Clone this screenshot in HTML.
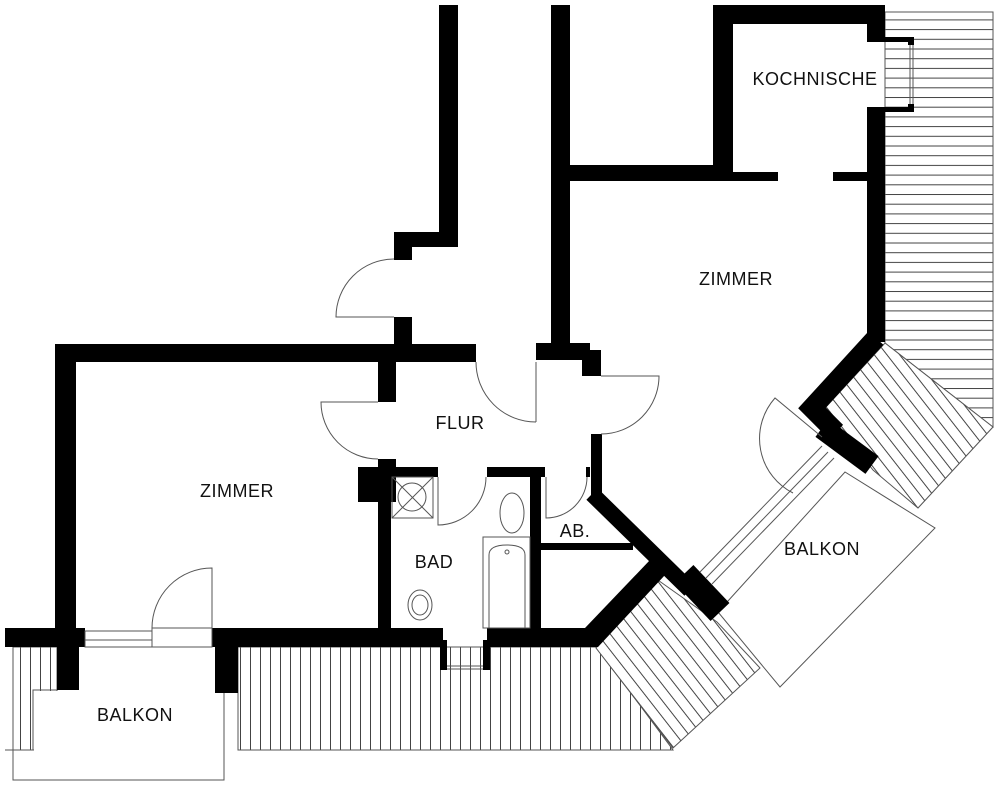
<!DOCTYPE html>
<html><head><meta charset="utf-8"><style>
html,body{margin:0;padding:0;background:#fff}
svg{display:block}
text{font-family:"Liberation Sans",sans-serif;font-size:18px;fill:#111;letter-spacing:0.5px}
</style></head><body>
<svg width="1000" height="786" viewBox="0 0 1000 786" xmlns="http://www.w3.org/2000/svg">
<defs>
<pattern id="hv" width="10" height="10" patternUnits="userSpaceOnUse"><line x1="0.5" y1="0" x2="0.5" y2="10" stroke="#444" stroke-width="1"/></pattern>
<pattern id="hh" width="10" height="9.7" patternUnits="userSpaceOnUse"><line x1="0" y1="0.5" x2="10" y2="0.5" stroke="#444" stroke-width="1"/></pattern>
<pattern id="hd" width="10" height="10" patternUnits="userSpaceOnUse" patternTransform="rotate(-38)"><line x1="0.5" y1="0" x2="0.5" y2="10" stroke="#444" stroke-width="1"/></pattern>
</defs>

<!-- terraces -->
<polygon points="885,12 993,12 993,427 885,343" fill="url(#hh)" stroke="#555" stroke-width="1"/>
<polygon points="238,647 597,647 673,750 238,750" fill="url(#hv)" stroke="#555" stroke-width="1"/>
<rect x="13" y="647" width="44" height="103" fill="url(#hv)" stroke="#555" stroke-width="1"/>
<rect x="34" y="691" width="189" height="88" fill="#fff"/>
<g stroke="#555" stroke-width="1" fill="none">
<polyline points="13,647 13,780 224,780 224,690"/>
<polyline points="33,750 33,690 57,690"/>
<line x1="5" y1="750" x2="33" y2="750"/>
</g>
<polygon points="825,408 885,343 993,427 918,508 873,470" fill="#fff"/>
<polygon points="825,408 885,343 993,427 918,508 873,470" fill="url(#hd)" stroke="#555" stroke-width="1"/>
<polygon points="596,648 655,578 717,622 760,668 673,748" fill="#fff"/>
<polygon points="596,648 655,578 717,622 760,668 673,748" fill="url(#hd)" stroke="#555" stroke-width="1"/>
<!-- right balcony -->
<polygon points="718,612 845,472 935,528 780,687" fill="#fff" stroke="#555" stroke-width="1"/>

<g fill="#000">
<rect x="439" y="5" width="19" height="242"/>
<rect x="394" y="232" width="64" height="15"/>
<rect x="394" y="232" width="18" height="28"/>
<rect x="394" y="317" width="18" height="28"/>
<rect x="551" y="5" width="19" height="345"/>
<rect x="536" y="343" width="54" height="17"/>
<rect x="582" y="350" width="19" height="26"/>
<rect x="570" y="165" width="163" height="16"/>
<rect x="713" y="5" width="20" height="176"/>
<rect x="713" y="5" width="172" height="19"/>
<rect x="867" y="5" width="18" height="37"/>
<rect x="867" y="37" width="47" height="5"/>
<rect x="867" y="107" width="47" height="5"/>
<rect x="908" y="37" width="6" height="8"/>
<rect x="908" y="104" width="6" height="8"/>
<rect x="867" y="107" width="18" height="235"/>
<rect x="733" y="172" width="45" height="9"/>
<rect x="833" y="172" width="34" height="9"/>
<rect x="55" y="344" width="421" height="18"/>
<rect x="55" y="344" width="21" height="290"/>
<rect x="5" y="628" width="80" height="19"/>
<rect x="57" y="640" width="22" height="50"/>
<rect x="212" y="628" width="231" height="19"/>
<rect x="215" y="640" width="23" height="53"/>
<rect x="378" y="355" width="18" height="47"/>
<rect x="378" y="459" width="18" height="10"/>
<rect x="358" y="467" width="38" height="35"/>
<rect x="378" y="467" width="13" height="170"/>
<rect x="378" y="467" width="60" height="10"/>
<rect x="487" y="467" width="58" height="10"/>
<rect x="530" y="467" width="11" height="170"/>
<rect x="586" y="467" width="4" height="10"/>
<rect x="541" y="543" width="92" height="7"/>
<rect x="487" y="628" width="104" height="19"/>
<rect x="440" y="640" width="7" height="30"/>
<rect x="483" y="640" width="7" height="30"/>
<rect x="591" y="434" width="11" height="66"/>
<polygon points="585,628 650,560 665,575 598,647 590,647"/>
</g>
<g stroke="#000" fill="none" stroke-linejoin="miter">
<line x1="592" y1="494" x2="690" y2="590" stroke-width="16"/>
<line x1="684" y1="574" x2="720" y2="612" stroke-width="26"/>
<polyline points="876,338 812,408 836,432" stroke-width="20"/>
<line x1="822" y1="428" x2="872" y2="465" stroke-width="22"/>
</g>

<g stroke="#555" stroke-width="1" fill="none">
<line x1="700" y1="572" x2="822" y2="446"/>
<line x1="706" y1="578" x2="828" y2="452"/>
<line x1="712" y1="584" x2="834" y2="458"/>
<line x1="910" y1="45" x2="910" y2="104"/><line x1="913" y1="45" x2="913" y2="104"/>
<rect x="85" y="631" width="67" height="16"/><line x1="85" y1="640" x2="152" y2="640"/>
<rect x="152" y="628" width="60" height="19"/>
<line x1="447" y1="666" x2="483" y2="666"/><line x1="447" y1="669" x2="483" y2="669"/>
<path d="M394 259 A58 58 0 0 0 336 317 L394 317"/>
<path d="M378 402 L321 402 A57 57 0 0 0 378 459"/>
<path d="M536 422 L536 362 M476 362 A60 60 0 0 0 536 422"/>
<path d="M601 376 L659 376 A58 58 0 0 1 601 434"/>
<path d="M438 477 L438 525 A48 48 0 0 0 486 477"/>
<path d="M546 477 L546 518 A41 41 0 0 0 587 477"/>
<path d="M212 628 L212 568 A60 60 0 0 0 152 628"/>
<path d="M822 437 L775 398 A61 61 0 0 0 793 493"/>
<rect x="392" y="477" width="41" height="41"/>
<line x1="392" y1="477" x2="433" y2="518"/><line x1="433" y1="477" x2="392" y2="518"/>
<circle cx="412" cy="497" r="14"/>
<ellipse cx="512" cy="513" rx="12" ry="20"/>
<rect x="483" y="537" width="47" height="91"/>
<path d="M489 628 L489 555 Q489 545 507 545 Q525 545 525 555 L525 628"/>
<circle cx="507" cy="552" r="2"/>
<ellipse cx="420" cy="605" rx="12" ry="15"/>
<ellipse cx="420" cy="605" rx="8" ry="10"/>
</g>

<text x="237" y="497" text-anchor="middle">ZIMMER</text>
<text x="460" y="429" text-anchor="middle">FLUR</text>
<text x="434" y="568" text-anchor="middle">BAD</text>
<text x="575" y="537" text-anchor="middle">AB.</text>
<text x="736" y="285" text-anchor="middle">ZIMMER</text>
<text x="815" y="85" text-anchor="middle">KOCHNISCHE</text>
<text x="822" y="555" text-anchor="middle">BALKON</text>
<text x="135" y="721" text-anchor="middle">BALKON</text>
</svg>
</body></html>
